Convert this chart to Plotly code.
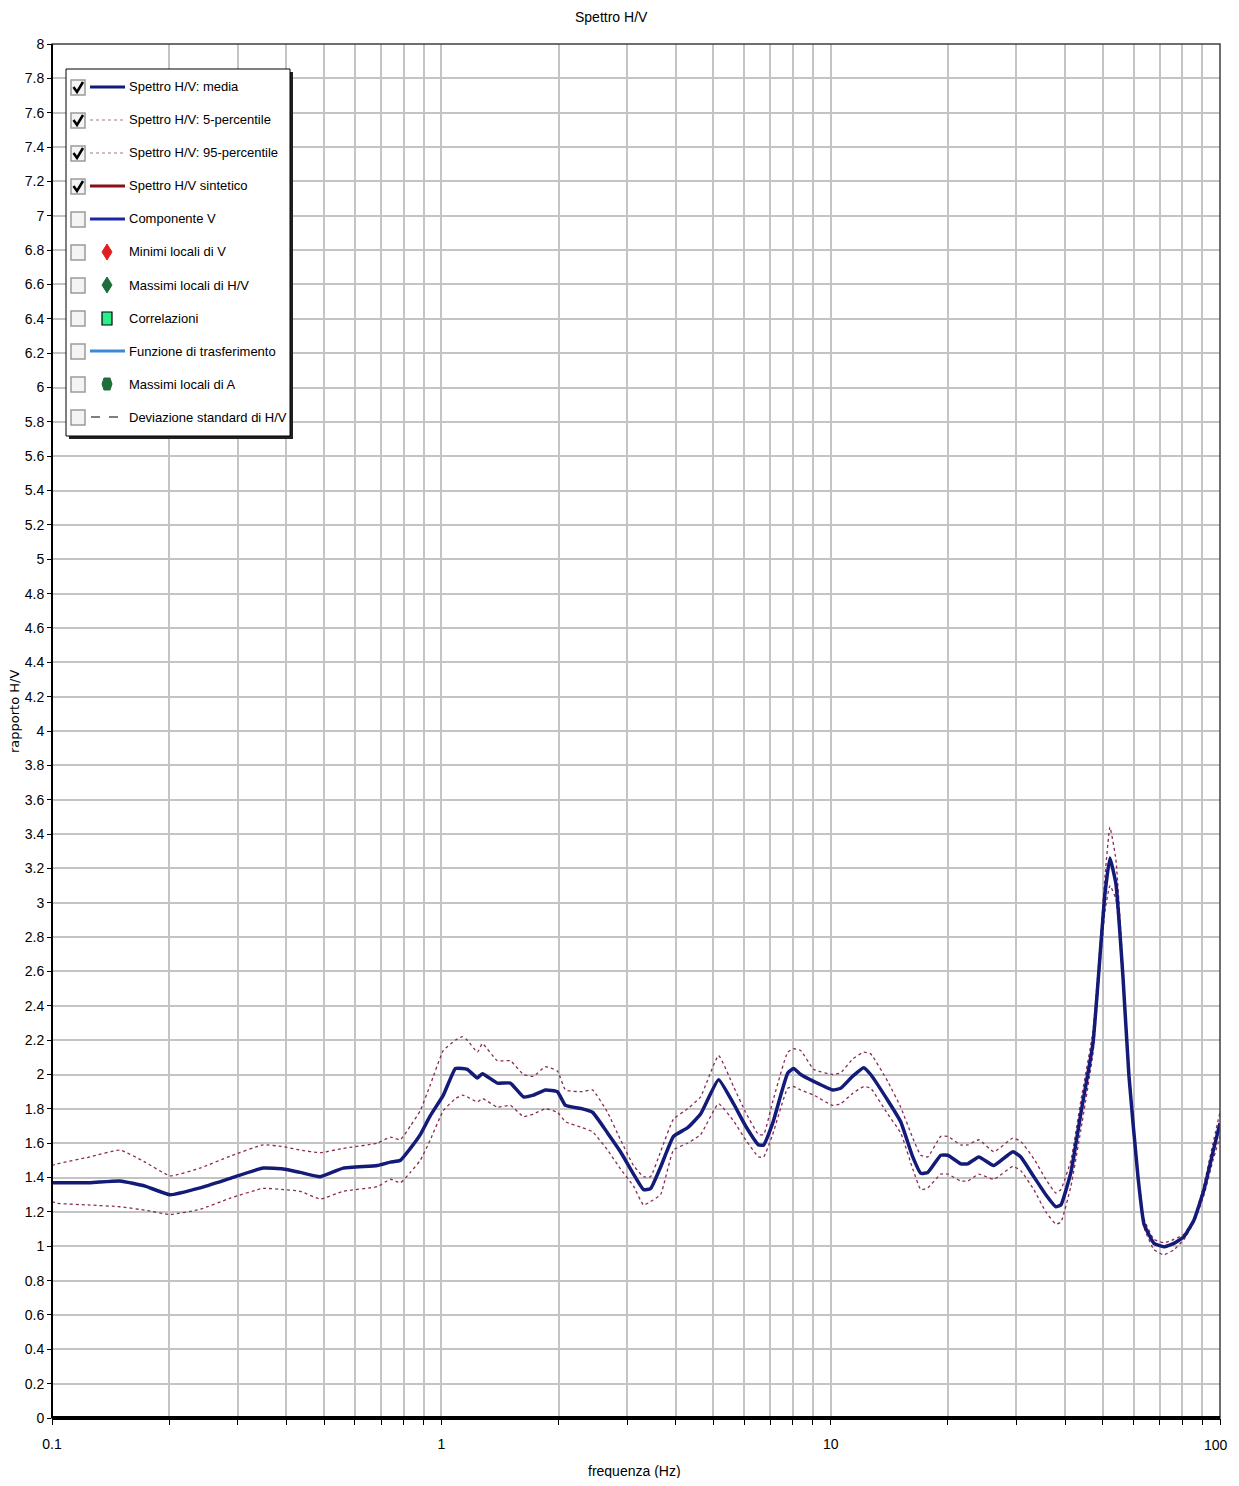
import plotly.graph_objects as go

# ---------------- data ----------------
freq = [0.1, 0.103, 0.1252, 0.1496, 0.1734, 0.2011, 0.2401, 0.2869, 0.3485, 0.3925,
        0.4341, 0.4886, 0.5598, 0.6846, 0.7395, 0.7846, 0.8325, 0.883, 0.9369, 1.012,
        1.087, 1.132, 1.166, 1.238, 1.275, 1.393, 1.504, 1.625, 1.724, 1.851,
        1.987, 2.084, 2.304, 2.445, 2.672, 2.885, 3.116, 3.306, 3.446, 3.656,
        3.948, 4.29, 4.633, 5.153, 5.63, 6.047, 6.529, 6.726, 7.094, 7.754,
        8.034, 8.374, 9.045, 10.12, 10.61, 11.39, 12.16, 12.67, 14.01, 15.13,
        16.25, 17.04, 17.76, 19.18, 19.99, 21.59, 22.5, 24.02, 26.24, 29.37,
        30.79, 33.25, 35.7, 37.87, 39.01, 41.4, 43.93, 47.16, 49.45, 50.63,
        52.15, 54.04, 56.33, 58.37, 61.56, 63.79, 67.67, 71.78, 76.15, 80.81,
        85.75, 90.98, 95.94, 100.0]

hv_media = [1.37, 1.37, 1.37, 1.38, 1.35, 1.30, 1.34, 1.395, 1.455, 1.45,
            1.43, 1.405, 1.455, 1.47, 1.49, 1.50, 1.57, 1.65, 1.76, 1.88,
            2.035, 2.035, 2.03, 1.98, 2.005, 1.95, 1.95, 1.87, 1.88, 1.91,
            1.90, 1.82, 1.80, 1.78, 1.66, 1.55, 1.42, 1.33, 1.335, 1.46,
            1.64, 1.69, 1.77, 1.97, 1.83, 1.70, 1.59, 1.59, 1.715, 2.007,
            2.035, 2.00, 1.96, 1.91, 1.92, 1.99, 2.04, 2.00, 1.85, 1.725,
            1.52, 1.425, 1.43, 1.53, 1.53, 1.48, 1.48, 1.52, 1.47, 1.55,
            1.52, 1.405, 1.30, 1.23, 1.24, 1.43, 1.775, 2.18, 2.76, 3.05,
            3.26, 3.11, 2.57, 1.99, 1.405, 1.13, 1.017, 0.997, 1.017, 1.056,
            1.153, 1.33, 1.55, 1.716]

hv_p5 = [1.26, 1.25, 1.24, 1.23, 1.21, 1.185, 1.215, 1.28, 1.337, 1.33,
         1.32, 1.275, 1.32, 1.347, 1.39, 1.37, 1.43, 1.50, 1.62, 1.79,
         1.86, 1.88, 1.87, 1.84, 1.86, 1.81, 1.82, 1.755, 1.77, 1.80,
         1.78, 1.725, 1.69, 1.667, 1.56, 1.45, 1.35, 1.24, 1.26, 1.30,
         1.56, 1.60, 1.65, 1.83, 1.73, 1.62, 1.52, 1.52, 1.65, 1.92,
         1.93, 1.91, 1.88, 1.82, 1.83, 1.89, 1.93, 1.92, 1.77, 1.66,
         1.45, 1.33, 1.34, 1.42, 1.42, 1.38, 1.38, 1.42, 1.39, 1.465,
         1.44, 1.33, 1.20, 1.13, 1.14, 1.35, 1.68, 2.12, 2.70, 2.95,
         3.10, 3.02, 2.53, 1.97, 1.39, 1.11, 0.98, 0.95, 0.98, 1.04,
         1.14, 1.30, 1.50, 1.64]

hv_p95 = [1.47, 1.48, 1.52, 1.56, 1.49, 1.41, 1.455, 1.525, 1.59, 1.58,
          1.56, 1.545, 1.57, 1.60, 1.635, 1.62, 1.70, 1.79, 1.94, 2.14,
          2.20, 2.22, 2.20, 2.13, 2.18, 2.08, 2.08, 2.00, 1.99, 2.045,
          2.02, 1.91, 1.90, 1.91, 1.78, 1.62, 1.47, 1.405, 1.405, 1.55,
          1.74, 1.80, 1.87, 2.11, 1.93, 1.78, 1.65, 1.65, 1.84, 2.13,
          2.15, 2.14, 2.03, 2.00, 2.01, 2.09, 2.13, 2.12, 1.96, 1.81,
          1.63, 1.53, 1.52, 1.64, 1.64, 1.59, 1.59, 1.62, 1.55, 1.63,
          1.61, 1.51, 1.39, 1.31, 1.33, 1.50, 1.85, 2.25, 2.82, 3.15,
          3.44, 3.25, 2.62, 2.02, 1.43, 1.16, 1.04, 1.02, 1.04, 1.07,
          1.16, 1.36, 1.60, 1.78]

x_grid_vals = [m * 10 ** e for e in (-1, 0, 1) for m in range(1, 10)] + [100]
# the last decade label ("100") sits at the right edge and is placed as a right-anchored text below
x_tick_text = ["0.1" if v == 0.1 else "1" if v == 1 else "10" if v == 10 else ""
               for v in x_grid_vals]
x_last_label = "100"

legend_labels = ["Spettro H/V: media", "Spettro H/V: 5-percentile", "Spettro H/V: 95-percentile",
                 "Spettro H/V sintetico", "Componente V", "Minimi locali di V",
                 "Massimi locali di H/V", "Correlazioni", "Funzione di trasferimento",
                 "Massimi locali di A", "Deviazione standard di H/V"]
legend_checked = [True, True, True, True, False, False, False, False, False, False, False]

# ---------------- layout geometry (screen pixels; page body has an 8px margin) ----------------
OFF = 8
W, H = 1239 - 2 * OFF, 1486 - 2 * OFF
L, R, T, B = 52, 1220, 44, 1418
FONT = "Liberation Sans, Arial, sans-serif"


def px(x):
    return (x - L) / (R - L)


def py(y):
    return (B - y) / (B - T)


NAVY = "#141a78"
PCT = "#8a2a5a"

fig = go.Figure()
fig.add_trace(go.Scatter(x=freq, y=hv_p5, mode="lines",
                         line=dict(color=PCT, width=1.3, dash="dot", shape="spline", smoothing=0.4),
                         name="Spettro H/V: 5-percentile"))
fig.add_trace(go.Scatter(x=freq, y=hv_p95, mode="lines",
                         line=dict(color=PCT, width=1.3, dash="dot", shape="spline", smoothing=0.4),
                         name="Spettro H/V: 95-percentile"))
fig.add_trace(go.Scatter(x=freq, y=hv_media, mode="lines",
                         line=dict(color=NAVY, width=3.5, shape="spline", smoothing=0.4),
                         name="Spettro H/V: media"))

shapes = []
annotations = []

# plot frame
shapes.append(dict(type="rect", xref="paper", yref="paper", x0=0, x1=1, y0=0, y1=1,
                   line=dict(color="#404040", width=1.5), layer="above"))
shapes.append(dict(type="line", xref="paper", yref="paper", x0=0, x1=1, y0=0, y1=0,
                   line=dict(color="black", width=4), layer="above"))
shapes.append(dict(type="line", xref="paper", yref="paper", x0=0, x1=0, y0=0, y1=1,
                   line=dict(color="black", width=2), layer="above"))

# legend box with shadow
bx0, by0, bx1, by1 = 66, 69, 290, 436
shapes.append(dict(type="rect", xref="paper", yref="paper", x0=px(bx0 + 3), x1=px(bx1 + 3),
                   y0=py(by1 + 3), y1=py(by0 + 3), fillcolor="#202020", line=dict(width=0), layer="above"))
shapes.append(dict(type="rect", xref="paper", yref="paper", x0=px(bx0), x1=px(bx1),
                   y0=py(by1), y1=py(by0), fillcolor="white", line=dict(color="black", width=1), layer="above"))

row0, step = 87, 33
for i, (lab, chk) in enumerate(zip(legend_labels, legend_checked)):
    cy = row0 + i * step
    # checkbox
    shapes.append(dict(type="rect", xref="paper", yref="paper", x0=px(71), x1=px(85),
                       y0=py(cy + 8), y1=py(cy - 7), fillcolor="#f4f4f4",
                       line=dict(color="#9a9a9a", width=1.5), layer="above"))
    if chk:
        shapes.append(dict(type="path", xref="paper", yref="paper",
                           path=f"M {px(73.5)} {py(cy)} L {px(77)} {py(cy + 5)} L {px(83)} {py(cy - 5)}",
                           line=dict(color="black", width=2.5), layer="above"))
    # symbol
    if i == 0:
        shapes.append(dict(type="line", xref="paper", yref="paper", x0=px(90), x1=px(125), y0=py(cy), y1=py(cy),
                           line=dict(color=NAVY, width=3), layer="above"))
    elif i in (1, 2):
        shapes.append(dict(type="line", xref="paper", yref="paper", x0=px(90), x1=px(125), y0=py(cy), y1=py(cy),
                           line=dict(color="#b0709a", width=1.2, dash="dot"), layer="above"))
    elif i == 3:
        shapes.append(dict(type="line", xref="paper", yref="paper", x0=px(90), x1=px(125), y0=py(cy), y1=py(cy),
                           line=dict(color="#8b0f14", width=3), layer="above"))
    elif i == 4:
        shapes.append(dict(type="line", xref="paper", yref="paper", x0=px(90), x1=px(125), y0=py(cy), y1=py(cy),
                           line=dict(color="#1a28a8", width=3), layer="above"))
    elif i in (5, 6):
        col = "#e02020" if i == 5 else "#1e6e3c"
        shapes.append(dict(type="path", xref="paper", yref="paper",
                           path=f"M {px(107)} {py(cy - 8)} L {px(112)} {py(cy)} L {px(107)} {py(cy + 8)} L {px(102)} {py(cy)} Z",
                           fillcolor=col, line=dict(color=col, width=1), layer="above"))
    elif i == 7:
        shapes.append(dict(type="rect", xref="paper", yref="paper", x0=px(102), x1=px(112),
                           y0=py(cy + 7), y1=py(cy - 6), fillcolor="#2aee8a",
                           line=dict(color="black", width=1.2), layer="above"))
    elif i == 8:
        shapes.append(dict(type="line", xref="paper", yref="paper", x0=px(90), x1=px(125), y0=py(cy), y1=py(cy),
                           line=dict(color="#3a8ad8", width=3), layer="above"))
    elif i == 9:
        shapes.append(dict(type="path", xref="paper", yref="paper",
                           path=(f"M {px(104)} {py(cy - 6)} L {px(110)} {py(cy - 6)} L {px(112)} {py(cy)} "
                                 f"L {px(110)} {py(cy + 6)} L {px(104)} {py(cy + 6)} L {px(102)} {py(cy)} Z"),
                           fillcolor="#1e6e3c", line=dict(color="#1e6e3c", width=1), layer="above"))
    elif i == 10:
        shapes.append(dict(type="line", xref="paper", yref="paper", x0=px(91), x1=px(125), y0=py(cy), y1=py(cy),
                           line=dict(color="black", width=1.2, dash="dash"), layer="above"))
    annotations.append(dict(text=lab, xref="paper", yref="paper", x=px(127), y=py(cy), xanchor="left",
                            yanchor="middle", showarrow=False, font=dict(family=FONT, size=13, color="black")))

# last x tick label, kept inside the page
annotations.append(dict(text=x_last_label, xref="paper", yref="paper", x=px(1230), y=py(1445),
                        xanchor="right", yanchor="middle", showarrow=False,
                        font=dict(family=FONT, size=14, color="black")))

# titles
annotations.append(dict(text="Spettro H/V", xref="paper", yref="paper", x=px(611), y=py(17),
                        xanchor="center", yanchor="middle", showarrow=False,
                        font=dict(family=FONT, size=14, color="black")))
annotations.append(dict(text="frequenza (Hz)", xref="paper", yref="paper", x=px(634), y=py(1471),
                        xanchor="center", yanchor="middle", showarrow=False,
                        font=dict(family=FONT, size=14, color="black")))
annotations.append(dict(text="rapporto H/V", xref="paper", yref="paper", x=px(15), y=py(712),
                        xanchor="center", yanchor="middle", showarrow=False, textangle=-90,
                        font=dict(family="DejaVu Sans, Verdana, sans-serif", size=13, color="black")))

fig.update_layout(
    width=W, height=H,
    margin=dict(l=L - OFF, r=W - (R - OFF), t=T - OFF, b=H - (B - OFF), pad=0),
    paper_bgcolor="white", plot_bgcolor="white",
    showlegend=False,
    shapes=shapes, annotations=annotations,
    font=dict(family=FONT, size=14, color="black"),
)
fig.update_xaxes(type="log", range=[-1, 2], tickvals=x_grid_vals, ticktext=x_tick_text,
                 showgrid=True, gridcolor="#c4c4c4", gridwidth=2, zeroline=False,
                 ticks="outside", ticklen=6, tickcolor="black", tickwidth=1,
                 ticklabelstandoff=7,
                 tickfont=dict(family=FONT, size=14, color="black"), showline=False)
fig.update_yaxes(range=[0, 8], dtick=0.2, tick0=0, showgrid=True, gridcolor="#c4c4c4", gridwidth=2,
                 zeroline=False, ticks="outside", ticklen=4, tickcolor="black", tickwidth=1,
                 tickfont=dict(family=FONT, size=14, color="black"), showline=False)

fig.write_html("out.html")
